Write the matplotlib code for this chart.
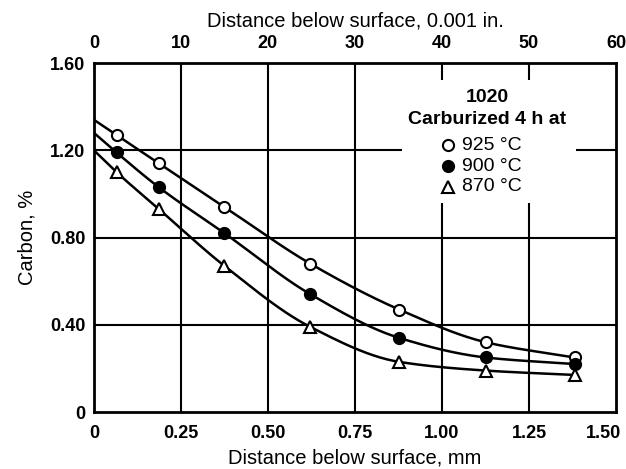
import numpy as np
import matplotlib.pyplot as plt
import matplotlib.transforms as mtransforms
from matplotlib.patches import Rectangle

plt.rcParams['font.family'] = ['Liberation Sans', 'DejaVu Sans']

# distance below surface, mm (measured points)
dist_mm = [0.065, 0.187, 0.375, 0.622, 0.877, 1.126, 1.381]
# carbon content, % (points)
c_925 = [1.27, 1.14, 0.94, 0.68, 0.47, 0.32, 0.25]
c_900 = [1.19, 1.03, 0.82, 0.54, 0.34, 0.25, 0.22]
c_870 = [1.10, 0.93, 0.67, 0.39, 0.23, 0.19, 0.17]
# surface value where each curve meets the left axis
surf = [1.34, 1.28, 1.20]
temps = ["925 °C", "900 °C", "870 °C"]

x_ticks = [0, 0.25, 0.50, 0.75, 1.00, 1.25, 1.50]
x_labels = ["0", "0.25", "0.50", "0.75", "1.00", "1.25", "1.50"]
y_ticks = [0, 0.40, 0.80, 1.20, 1.60]
y_labels = ["0", "0.40", "0.80", "1.20", "1.60"]
top_ticks = [0, 10, 20, 30, 40, 50, 60]


def pchip(x, y, xs):
    # monotone cubic through the points, just for drawing a smooth curve
    x = np.asarray(x, float)
    y = np.asarray(y, float)
    h = np.diff(x)
    d = np.diff(y) / h
    m = np.zeros_like(y)
    for k in range(1, len(x) - 1):
        if d[k - 1] * d[k] > 0:
            w1 = 2 * h[k] + h[k - 1]
            w2 = h[k] + 2 * h[k - 1]
            m[k] = (w1 + w2) / (w1 / d[k - 1] + w2 / d[k])
    m[0] = d[0]
    m[-1] = d[-1]
    i = np.clip(np.searchsorted(x, xs) - 1, 0, len(x) - 2)
    t = (xs - x[i]) / h[i]
    h00 = 2 * t**3 - 3 * t**2 + 1
    h10 = t**3 - 2 * t**2 + t
    h01 = -2 * t**3 + 3 * t**2
    h11 = t**3 - t**2
    return h00 * y[i] + h10 * h[i] * m[i] + h01 * y[i + 1] + h11 * h[i] * m[i + 1]


fig = plt.figure(figsize=(6.26, 4.69), dpi=100)
ax = fig.add_axes([0.150, 0.1215, 0.834, 0.744])

ax.set_xlim(0, 1.5)
ax.set_ylim(0, 1.6)
ax.set_xticks(x_ticks)
ax.set_xticklabels(x_labels, fontweight='bold', fontsize=13)
ax.set_yticks(y_ticks)
ax.set_yticklabels(y_labels, fontweight='bold', fontsize=13)
ax.tick_params(length=0)
ax.tick_params(axis='x', pad=9)
ax.tick_params(axis='y', pad=6)
for s in ax.spines.values():
    s.set_linewidth(2)

for xv in x_ticks[1:-1]:
    ax.axvline(xv, color='black', lw=1.5, zorder=0.5)
for yv in y_ticks[1:-1]:
    ax.axhline(yv, color='black', lw=1.5, zorder=0.5)

# white patch behind the key text
ax.add_patch(Rectangle((0.59, 0.60), 0.333, 0.352, transform=ax.transAxes,
                       facecolor='white', edgecolor='none', zorder=1))

series = [c_925, c_900, c_870]
markers = ['o', 'o', '^']
faces = ['white', 'black', 'white']
key_y = [0.765, 0.705, 0.645]
for vals, s0, mk, fc, ky, lab in zip(series, surf, markers, faces, key_y, temps):
    xs = np.linspace(0, dist_mm[-1], 300)
    ys = pchip([0] + dist_mm, [s0] + vals, xs)
    ax.plot(xs, ys, color='black', lw=1.8, zorder=2)
    ax.plot(dist_mm, vals, ls='none', marker=mk, ms=8,
            mfc=fc, mec='black', mew=1.5, zorder=3)
    # key entry
    ax.plot([0.678], [ky], transform=ax.transAxes, ls='none', marker=mk,
            ms=8, mfc=fc, mec='black', mew=1.5, zorder=4)
    ax.text(0.705, ky, lab, transform=ax.transAxes, ha='left', va='center',
            fontsize=14, zorder=4)

ax.text(0.753, 0.900, "1020", transform=ax.transAxes, ha='center', va='center',
        fontsize=14, fontweight='bold', zorder=4)
ax.text(0.753, 0.837, "Carburized 4 h at", transform=ax.transAxes, ha='center',
        va='center', fontsize=14, fontweight='bold', zorder=4)

ax.set_xlabel("Distance below surface, mm", fontsize=14.5, labelpad=5)
ax.set_ylabel("Carbon, %", fontsize=14.5, labelpad=10)

top = ax.twiny()
top.set_xlim(0, 60)
top.set_xticks(top_ticks)
top.set_xticklabels([str(t) for t in top_ticks], fontweight='bold', fontsize=13)
top.tick_params(length=0, pad=8)
top.set_xlabel("Distance below surface, 0.001 in.", fontsize=14.5, labelpad=6)
for s in top.spines.values():
    s.set_visible(False)

# last bottom label sits a little left of its grid line, as in the original
last = ax.get_xticklabels()[-1]
last.set_transform(last.get_transform() +
                   mtransforms.ScaledTranslation(-12 / 100, 0, fig.dpi_scale_trans))

fig.savefig("out.png", dpi=100)
